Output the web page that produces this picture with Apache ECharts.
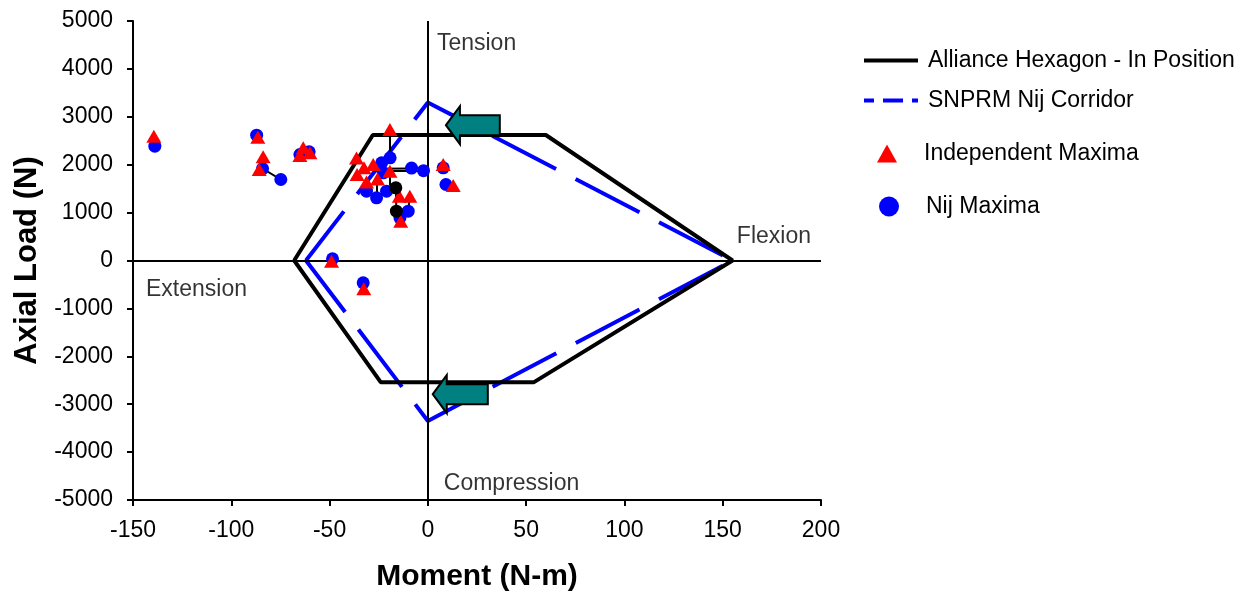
<!DOCTYPE html>
<html>
<head>
<meta charset="utf-8">
<script src="https://cdn.jsdelivr.net/npm/echarts@6/dist/echarts.min.js"></script>
<style>
  html, body { margin: 0; padding: 0; background: #fff; }
  #chart { width: 1247px; height: 601px; }
</style>
</head>
<body>
<div id="chart"></div>
<script>
// axis ranges
var xTicks = [-150, 200, 50];
var yTicks = [-5000, 5000, 1000];

// Alliance hexagon (moment, axial load)
var hexagon = [[-68, 0], [-28, 2620], [60, 2620], [155, 0], [54, -2540], [-24, -2540], [-68, 0]];
// SNPRM Nij corridor
var corridor = [[-62, 0], [0, 3300], [155, 0], [0, -3350], [-62, 0]];

// test results
var independentMax = [
    [-139.4, 2595], [-86.5, 2574], [-83.8, 2165], [-85.8, 1900], [-63.4, 2353],
    [-65.1, 2192], [-60, 2248], [-19.3, 2735], [-36.3, 2140], [-32.5, 1935],
    [-27.8, 2004], [-36, 1795], [-31.2, 1640], [-25.6, 1700], [-19.3, 1865],
    [-14.5, 1343], [-9.2, 1340], [-13.8, 820], [7.8, 2004], [12.9, 1566],
    [-49, -15], [-32.6, -591]
];
var nijMax = [
    [-138.9, 2386], [-87.1, 2616], [-84.1, 1920], [-74.8, 1691], [-65.1, 2213],
    [-60.4, 2270], [-19.2, 2144], [-23.5, 2040], [-22.7, 1830], [-8.3, 1930],
    [-2.2, 1875], [-31.2, 1447], [-26.1, 1308], [-21, 1447], [-10, 1030],
    [-14.2, 891], [9.2, 1587], [7.8, 1935], [-48.5, 35], [-32.9, -466]
];
var otherPts = [[-16.3, 1518], [-16, 1030]];

// thin connectors between paired points
var links = [
    [[-84.1, 1920], [-74.8, 1691]],
    [[-19.3, 2735], [-19.2, 2144]],
    [[-28, 1915], [-8.3, 1920]],
    [[-28, 1868], [-2.2, 1868]],
    [[-16.3, 1518], [-16, 1030]],
    [[-19.3, 1865], [-19.3, 1560]],
    [[-26, 1690], [-26, 1340]],
    [[-9.2, 1340], [-10, 1030]],
    [[-13.8, 820], [-16, 1030]]
];

// arrows: [tail x, tip x, load]
var arrows = [[36.6, 9.2, 2825], [30.5, 2.5, -2790]];

// region notes
var notes = [
    {name: 'Tension', value: [4.6, 4520]},
    {name: 'Compression', value: [8.1, -4660]},
    {name: 'Extension', value: [-143.4, -600]},
    {name: 'Flexion', value: [157.2, 490]}
];

var font = '"Liberation Sans", Arial, sans-serif';
var myChart = echarts.init(document.getElementById('chart'));

function legendBox(item, top, left, w, h, pad) {
    return {
        data: [item],
        orient: 'vertical',
        left: left,
        top: top,
        itemWidth: w,
        itemHeight: h,
        selectedMode: false,
        textStyle: {fontFamily: font, fontSize: 23, color: '#000', padding: [0, 0, 0, pad]}
    };
}

var option = {
    animation: false,
    grid: {left: 133, right: 426, top: 21, bottom: 101},
    legend: [
        legendBox({name: 'Alliance Hexagon - In Position', itemStyle: {opacity: 0},
            lineStyle: {width: 4, color: '#000'}}, 44, 857, 54, 14, 5),
        legendBox({name: 'SNPRM Nij Corridor', itemStyle: {opacity: 0},
            lineStyle: {type: [20, 9], width: 4, color: '#0000ff'}}, 84, 857, 54, 14, 5),
        legendBox('Independent Maxima', 137, 872, 20, 18, 22),
        legendBox('Nij Maxima', 190, 874, 20, 20, 22)
    ],
    xAxis: {
        type: 'value',
        min: xTicks[0], max: xTicks[1], interval: xTicks[2],
        name: 'Moment (N-m)',
        nameLocation: 'middle',
        nameGap: 62,
        nameTextStyle: {fontFamily: font, fontSize: 30, fontWeight: 'bold', color: '#000'},
        axisLine: {onZero: false, lineStyle: {color: '#000', width: 2}},
        axisTick: {inside: false, length: 6, lineStyle: {color: '#000', width: 2}},
        axisLabel: {fontFamily: font, fontSize: 23, color: '#000', margin: 19,
            formatter: function (v) { return String(v); }},
        splitLine: {show: false}
    },
    yAxis: {
        type: 'value',
        min: yTicks[0], max: yTicks[1], interval: yTicks[2],
        name: 'Axial Load (N)',
        nameLocation: 'middle',
        nameGap: 86,
        nameTextStyle: {fontFamily: font, fontSize: 31, fontWeight: 'bold', color: '#000'},
        axisLine: {onZero: false, lineStyle: {color: '#000', width: 2}},
        axisTick: {inside: false, length: 6, lineStyle: {color: '#000', width: 2}},
        axisLabel: {fontFamily: font, fontSize: 23, color: '#000', margin: 20,
            formatter: function (v) { return String(v); }},
        splitLine: {show: false}
    },
    series: [
        {
            name: 'zero',
            type: 'line',
            data: [],
            silent: true,
            markLine: {
                symbol: 'none',
                silent: true,
                label: {show: false},
                lineStyle: {color: '#000', width: 2, type: 'solid'},
                data: [{xAxis: 0}, {yAxis: 0}]
            }
        },
        {
            name: 'SNPRM Nij Corridor',
            type: 'line',
            data: corridor,
            symbol: 'none',
            color: '#0000ff',
            lineStyle: {color: '#0000ff', width: 4, type: [72, 22], dashOffset: 10},
            z: 3
        },
        {
            name: 'Alliance Hexagon - In Position',
            type: 'line',
            data: hexagon,
            symbol: 'none',
            color: '#000',
            lineStyle: {color: '#000', width: 4},
            z: 4
        },
        {
            name: 'links',
            type: 'lines',
            coordinateSystem: 'cartesian2d',
            data: links.map(function (c) { return {coords: c}; }),
            lineStyle: {color: '#000', width: 2, opacity: 1},
            z: 5
        },
        {
            name: 'Nij Maxima',
            type: 'scatter',
            data: nijMax,
            symbol: 'circle',
            symbolSize: 13,
            itemStyle: {color: '#0000ff', opacity: 1},
            z: 6
        },
        {
            name: 'Independent Maxima',
            type: 'scatter',
            data: independentMax,
            symbol: 'triangle',
            symbolSize: [15, 13],
            itemStyle: {color: '#ff0000', opacity: 1},
            z: 7
        },
        {
            name: 'other',
            type: 'scatter',
            data: otherPts,
            symbol: 'circle',
            symbolSize: 13,
            itemStyle: {color: '#000', opacity: 1},
            z: 8
        },
        {
            name: 'arrows',
            type: 'custom',
            data: arrows,
            encode: {x: [0, 1], y: 2},
            z: 9,
            renderItem: function (params, api) {
                var tail = api.coord([api.value(0), api.value(2)]);
                var tip = api.coord([api.value(1), api.value(2)]);
                var cy = tip[1], hb = tip[0] + 14;
                return {
                    type: 'polygon',
                    shape: {points: [
                        [tip[0], cy], [hb, cy - 19], [hb, cy - 10], [tail[0], cy - 10],
                        [tail[0], cy + 10], [hb, cy + 10], [hb, cy + 19]
                    ]},
                    style: {fill: '#008080', stroke: '#000', lineWidth: 2}
                };
            }
        },
        {
            name: 'notes',
            type: 'scatter',
            data: notes,
            symbolSize: 0,
            silent: true,
            label: {
                show: true,
                position: 'right',
                distance: 0,
                formatter: '{b}',
                fontFamily: font,
                fontSize: 23,
                color: '#000'
            },
            z: 10
        }
    ]
};
myChart.setOption(option);
</script>
</body>
</html>
